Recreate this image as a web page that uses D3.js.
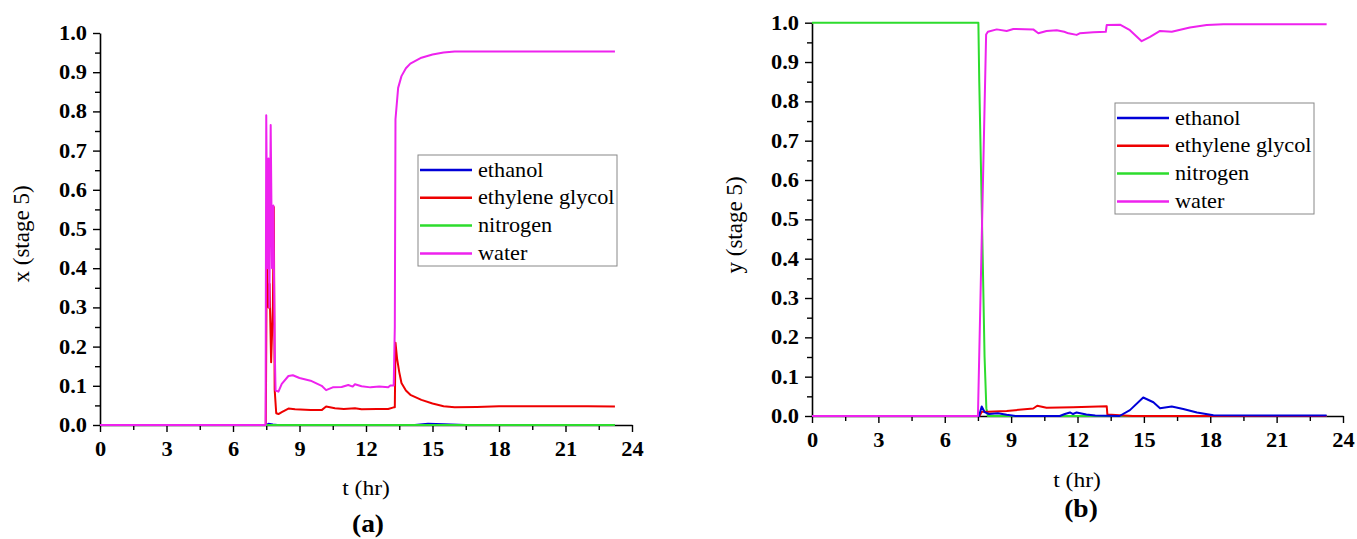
<!DOCTYPE html>
<html><head><meta charset="utf-8">
<script src="https://cdn.jsdelivr.net/npm/d3@7"></script>
<style>body{margin:0;background:#fff}svg{display:block}
svg text{font-family:"Liberation Serif","Times New Roman",Tinos,"DejaVu Serif","Noto Serif",serif}</style>
</head><body>
<svg id="c" width="1357" height="539"></svg>
<script>
// ---- data ----
const seriesNames = ["ethanol", "ethylene glycol", "nitrogen", "water"];
const seriesColors = ["#0000d8", "#ee0000", "#2ddc2d", "#ee22ee"];
const xTicks = [0, 3, 6, 9, 12, 15, 18, 21, 24];
const yTicks = [0, 0.1, 0.2, 0.3, 0.4, 0.5, 0.6, 0.7, 0.8, 0.9, 1.0];

// panel (a): liquid mole fraction x (stage 5), [t (hr), value]
const xEthanol = [[0,0],[7.5,0],[7.6,0.003],[7.8,0.001],[8,0],[14.2,0],[14.8,0.003],[15.5,0.002],[16.5,0],[23.23,0]];
const xGlycol = [[0,0],[7.48,0],[7.52,0.42],[7.6,0.30],[7.65,0.36],[7.72,0.16],[7.8,0.3],[7.84,0.556],[7.88,0.09],[7.95,0.03],[8.05,0.028],[8.2,0.033],[8.5,0.042],[8.8,0.04],[9.5,0.038],[10.0,0.038],[10.2,0.047],[10.6,0.043],[11.0,0.041],[11.5,0.043],[11.8,0.04],[12.5,0.041],[13.0,0.041],[13.25,0.045],[13.3,0.045],[13.33,0.21],[13.4,0.17],[13.5,0.135],[13.6,0.107],[13.8,0.088],[14.0,0.077],[14.5,0.064],[15.0,0.055],[15.5,0.048],[16.0,0.045],[17,0.046],[18,0.048],[20,0.048],[22,0.048],[23.23,0.047]];
const xNitrogen = [[0,0],[23.23,0]];
const xWater = [[0,0],[7.47,0],[7.5,0.79],[7.55,0.4],[7.6,0.68],[7.64,0.3],[7.7,0.765],[7.76,0.4],[7.82,0.56],[7.88,0.2],[7.92,0.088],[8.05,0.085],[8.2,0.105],[8.5,0.125],[8.7,0.127],[9.0,0.12],[9.5,0.113],[10.0,0.1],[10.2,0.089],[10.5,0.096],[10.9,0.097],[11.2,0.102],[11.4,0.098],[11.5,0.104],[11.8,0.099],[12.2,0.096],[12.6,0.098],[13.0,0.096],[13.1,0.101],[13.25,0.101],[13.3,0.25],[13.33,0.78],[13.45,0.86],[13.6,0.89],[13.8,0.91],[14.0,0.922],[14.5,0.937],[15.0,0.945],[15.5,0.95],[16.0,0.953],[17,0.953],[20,0.953],[23.23,0.953]];

// panel (b): vapour mole fraction y (stage 5), [t (hr), value]
const yEthanol = [[0,0],[7.55,0],[7.67,0.024],[7.8,0.01],[8.0,0.005],[8.4,0.007],[8.8,0.003],[9.2,0],[11.2,0],[11.43,0.005],[11.66,0.009],[11.8,0.005],[11.96,0.009],[12.4,0.004],[12.8,0.001],[13.9,0],[14.37,0.015],[14.97,0.047],[15.43,0.035],[15.73,0.02],[16.26,0.024],[16.78,0.018],[17.4,0.009],[18.14,0.002],[23.26,0.001]];
const yGlycol = [[0,0],[7.57,0],[7.67,0.011],[7.97,0.011],[8.8,0.013],[10.0,0.019],[10.18,0.026],[10.6,0.021],[11.8,0.022],[13.32,0.025],[13.35,0.004],[13.9,0.002],[14.5,0],[23.26,0]];
const yNitrogen = [[0,1],[7.52,1],[7.56,0.85],[7.7,0.45],[7.8,0.15],[7.88,0.02],[7.95,0],[23.26,0]];
const yWater = [[0,0],[7.5,0],[7.87,0.97],[7.95,0.977],[8.35,0.983],[8.8,0.979],[9.1,0.984],[10.0,0.983],[10.23,0.973],[10.6,0.979],[11.06,0.981],[11.4,0.977],[11.59,0.973],[11.96,0.969],[12.1,0.973],[12.72,0.976],[13.28,0.977],[13.32,0.994],[13.92,0.995],[14.37,0.981],[14.9,0.953],[15.28,0.964],[15.73,0.979],[16.26,0.977],[17.08,0.988],[17.84,0.994],[18.59,0.996],[20.85,0.996],[23.26,0.996]];

// ---- drawing ----
const svg = d3.select("#c");

function stretchedText(g, x, y, str, size, weight, anchor, sx) {
  return g.append("text")
    .attr("transform", `translate(${x},${y}) scale(${sx},1)`)
    .attr("text-anchor", anchor)
    .attr("font-size", size).attr("font-weight", weight).attr("fill", "#000")
    .text(str);
}

function panel(cfg, data) {
  const g = svg.append("g");
  const x = d3.scaleLinear().domain([0, 24]).range([cfg.left, cfg.right]);
  const y = d3.scaleLinear().domain([0, 1]).range([cfg.bottom, cfg.top]);

  // minor ticks
  const xMinor = d3.range(0, 24.01, 1.5).filter(v => !xTicks.includes(v));
  const yMinor = d3.range(0.05, 1.0, 0.1);
  g.append("g").attr("transform", `translate(0,${cfg.bottom})`)
    .call(d3.axisBottom(x).tickValues(xMinor).tickSize(5).tickSizeOuter(0).tickFormat(""))
    .call(a => a.select(".domain").remove())
    .call(a => a.selectAll("line").attr("stroke-width", 1.4));
  g.append("g").attr("transform", `translate(${cfg.left},0)`)
    .call(d3.axisLeft(y).tickValues(yMinor).tickSize(5).tickSizeOuter(0).tickFormat(""))
    .call(a => a.select(".domain").remove())
    .call(a => a.selectAll("line").attr("stroke-width", 1.4));

  // major axes
  const xa = g.append("g").attr("transform", `translate(0,${cfg.bottom})`)
    .call(d3.axisBottom(x).tickValues(xTicks).tickSize(7).tickSizeOuter(0).tickPadding(10).tickFormat(d3.format("d")));
  const ya = g.append("g").attr("transform", `translate(${cfg.left},0)`)
    .call(d3.axisLeft(y).tickValues(yTicks).tickSize(7).tickSizeOuter(0).tickPadding(6).tickFormat(d3.format(".1f")));
  [xa, ya].forEach(a => {
    a.attr("font-family", null).attr("font-size", 20).attr("font-weight", "bold");
    a.select(".domain").attr("stroke-width", 1.6);
    a.selectAll("line").attr("stroke-width", 1.4);
    a.selectAll("text").attr("fill", "#000");
  });
  xa.selectAll("text").attr("transform", "scale(1.12,1)");
  ya.selectAll("text").each(function() {
    const t = d3.select(this);
    const xx = +t.attr("x");
    t.attr("x", 0).attr("transform", `translate(${xx},0) scale(1.12,1)`);
  });

  // lines (nitrogen above ethanol so it shows on the zero line; water on top)
  const line = d3.line().x(d => x(d[0])).y(d => y(d[1]));
  cfg.order.forEach(i => {
    g.append("path").datum(data[i]).attr("d", line)
      .attr("fill", "none").attr("stroke", seriesColors[i])
      .attr("stroke-width", 2).attr("stroke-linejoin", "round");
  });

  // legend
  const L = cfg.legend;
  g.append("rect").attr("x", L.x).attr("y", L.y).attr("width", L.w).attr("height", L.h)
    .attr("fill", "#fff").attr("stroke", "#888").attr("stroke-width", 1);
  seriesNames.forEach((n, i) => {
    const cy = L.y + 15 + i * 27.8;
    g.append("line").attr("x1", L.x + 2).attr("x2", L.x + 54).attr("y1", cy).attr("y2", cy)
      .attr("stroke", seriesColors[i]).attr("stroke-width", 2.5);
    stretchedText(g, L.x + 60, cy + 6.5, n, 21, "normal", "start", 1.06);
  });

  // titles
  g.append("text").attr("transform", `translate(${cfg.yTitle[0]},${cfg.yTitle[1]}) rotate(-90)`)
    .attr("text-anchor", "middle").attr("font-size", 23)
    .text(cfg.yLabel);
  stretchedText(g, cfg.xTitle[0], cfg.xTitle[1], "t (hr)", 21, "normal", "middle", 1.12);
  stretchedText(g, cfg.tag[0], cfg.tag[1], cfg.tagText, 25, "bold", "middle", 1.1);
}

panel({left: 100, right: 632, top: 33, bottom: 425, yLabel: "x (stage 5)",
       yTitle: [29, 234], xTitle: [366, 495], tag: [368, 532], tagText: "(a)",
       order: [0, 1, 2, 3],
       legend: {x: 418, y: 155, w: 199, h: 111}},
      [xEthanol, xGlycol, xNitrogen, xWater]);
panel({left: 812, right: 1343, top: 22.7, bottom: 416, yLabel: "y (stage 5)",
       yTitle: [742, 225], xTitle: [1077, 487], tag: [1081, 517], tagText: "(b)",
       order: [2, 1, 0, 3],
       legend: {x: 1115, y: 103, w: 199, h: 111}},
      [yEthanol, yGlycol, yNitrogen, yWater]);
</script>
</body></html>
